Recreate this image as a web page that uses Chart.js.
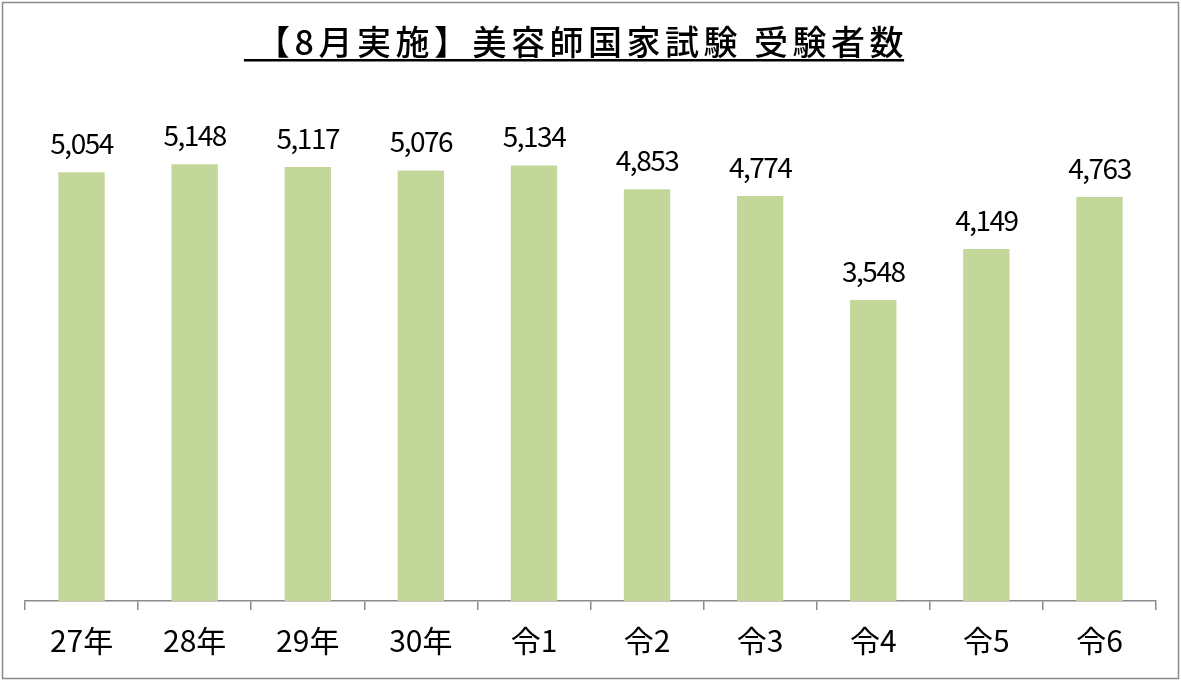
<!DOCTYPE html>
<html>
<head>
<meta charset="utf-8">
<script src="https://cdn.jsdelivr.net/npm/chart.js@4.4.1/dist/chart.umd.min.js"></script>
<style>
  html, body { margin: 0; padding: 0; background: #fff; }
  #wrap { width: 1181px; height: 681px; position: relative; }
</style>
</head>
<body>
<div id="wrap"><canvas id="examChart"></canvas></div>
<script>
// chart data
const titleText = " 【8月実施】美容師国家試験 受験者数";
const categories = ["27年", "28年", "29年", "30年", "令1", "令2", "令3", "令4", "令5", "令6"];
const examinees = [5054, 5148, 5117, 5076, 5134, 4853, 4774, 3548, 4149, 4763];
const yRange = [0, 6000];

const FONT = "'Noto Sans CJK JP', 'Noto Sans', sans-serif";

// frame + title with underline
const framePlugin = {
    id: "frame",
    beforeDraw: function (chart) {
        const ctx = chart.ctx;
        ctx.save();
        ctx.fillStyle = "#fff";
        ctx.fillRect(0, 0, chart.width, chart.height);
        ctx.restore();
    },
    afterDraw: function (chart) {
        const ctx = chart.ctx;
        ctx.save();
        ctx.strokeStyle = "#8a8a8a";
        ctx.lineWidth = 1.5;
        ctx.strokeRect(2.5, 2.5, chart.width - 5, chart.height - 5);

        ctx.font = "500 34px " + FONT;
        ctx.letterSpacing = "4.5px";
        ctx.fillStyle = "#000";
        ctx.textBaseline = "alphabetic";
        const w = ctx.measureText(titleText).width - 4;
        const x0 = 574 - w / 2;
        ctx.fillText(titleText, x0, 55);
        ctx.fillRect(x0, 59, w, 2.5);
        ctx.restore();
    }
};

// value labels above bars
const valueLabels = {
    id: "valueLabels",
    afterDatasetsDraw: function (chart) {
        const ctx = chart.ctx;
        const meta = chart.getDatasetMeta(0);
        ctx.save();
        ctx.font = "28px " + FONT;
        ctx.letterSpacing = "-1.5px";
        ctx.fillStyle = "#000";
        ctx.textAlign = "center";
        ctx.textBaseline = "alphabetic";
        meta.data.forEach((bar, i) => {
            ctx.fillText(examinees[i].toLocaleString("en-US"), bar.x, bar.y - 18);
        });
        ctx.restore();
    }
};

new Chart(document.getElementById("examChart"), {
    type: "bar",
    data: {
        labels: categories,
        datasets: [{
            label: "受験者数",
            data: examinees,
            backgroundColor: "#c4d79b",
            borderWidth: 0,
            categoryPercentage: 1,
            barPercentage: 0.41
        }]
    },
    options: {
        responsive: true,
        maintainAspectRatio: false,
        animation: false,
        layout: { padding: { left: 25, right: 25, top: 92, bottom: 0 } },
        plugins: {
            legend: { display: false },
            tooltip: { enabled: false }
        },
        scales: {
            x: {
                offset: true,
                grid: {
                    offset: true,
                    drawOnChartArea: false,
                    drawTicks: true,
                    tickLength: 9,
                    color: "#8a8a8a",
                    lineWidth: 1.5
                },
                border: { display: true, color: "#8a8a8a", width: 1.5 },
                ticks: {
                    color: "#000",
                    font: { family: FONT, size: 30 },
                    padding: 13
                },
                afterFit: function (scale) { scale.height = 80; }
            },
            y: {
                display: false,
                min: yRange[0],
                max: yRange[1]
            }
        }
    },
    plugins: [framePlugin, valueLabels]
});
</script>
</body>
</html>
